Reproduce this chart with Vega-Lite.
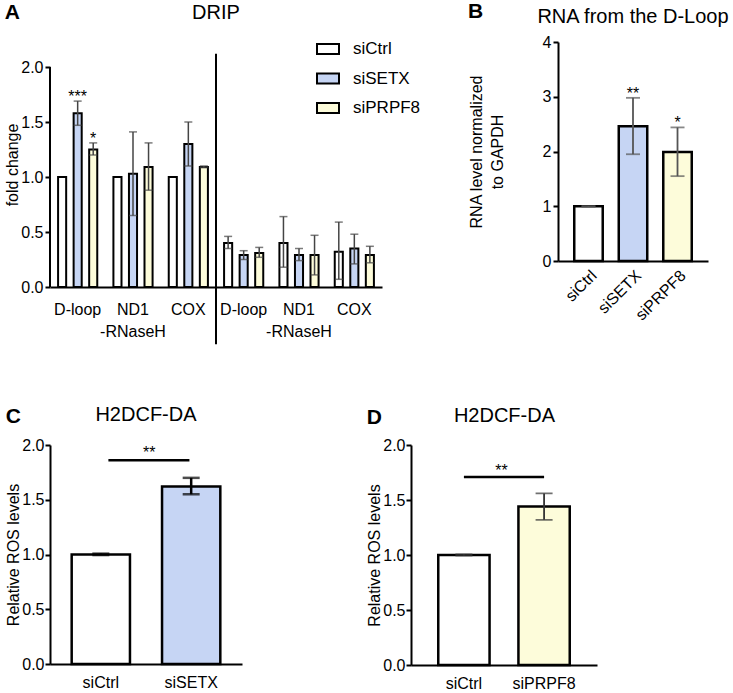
{
  "$schema": "https://vega.github.io/schema/vega-lite/v6.json",
  "padding": {"left": 4, "top": 0, "right": 0, "bottom": 0},
  "background": "white",
  "config": {
    "font": "Liberation Sans",
    "view": {"stroke": null},
    "axis": {
      "grid": false, "domainColor": "black", "domainWidth": 2, "tickColor": "black", "tickWidth": 2, "tickSize": 5,
      "labelFontSize": 16, "labelColor": "black", "titleFontSize": 16, "titleFontWeight": "normal", "titleColor": "black",
      "labelFont": "Liberation Sans", "titleFont": "Liberation Sans"
    },
    "title": {"fontSize": 21, "fontWeight": "bold", "anchor": "start", "frame": "bounds", "color": "black", "font": "Liberation Sans"},
    "text": {"font": "Liberation Sans", "color": "black"}
  },
  "datasets": {
    "drip": [
      {"grp": "L|D-loop", "cond": "siCtrl", "v": 1.0},
      {"grp": "L|D-loop", "cond": "siSETX", "v": 1.58, "lo": 1.47, "hi": 1.69, "sig": "***"},
      {"grp": "L|D-loop", "cond": "siPRPF8", "v": 1.25, "lo": 1.2, "hi": 1.31, "sig": "*"},
      {"grp": "L|ND1", "cond": "siCtrl", "v": 1.0},
      {"grp": "L|ND1", "cond": "siSETX", "v": 1.03, "lo": 0.65, "hi": 1.41},
      {"grp": "L|ND1", "cond": "siPRPF8", "v": 1.09, "lo": 0.88, "hi": 1.31},
      {"grp": "L|COX", "cond": "siCtrl", "v": 1.0},
      {"grp": "L|COX", "cond": "siSETX", "v": 1.3, "lo": 1.1, "hi": 1.5},
      {"grp": "L|COX", "cond": "siPRPF8", "v": 1.09, "lo": 1.085, "hi": 1.1},
      {"grp": "R|D-loop", "cond": "siCtrl", "v": 0.4, "lo": 0.35, "hi": 0.46},
      {"grp": "R|D-loop", "cond": "siSETX", "v": 0.29, "lo": 0.25, "hi": 0.33},
      {"grp": "R|D-loop", "cond": "siPRPF8", "v": 0.31, "lo": 0.27, "hi": 0.36},
      {"grp": "R|ND1", "cond": "siCtrl", "v": 0.4, "lo": 0.18, "hi": 0.64},
      {"grp": "R|ND1", "cond": "siSETX", "v": 0.29, "lo": 0.24, "hi": 0.35},
      {"grp": "R|ND1", "cond": "siPRPF8", "v": 0.29, "lo": 0.11, "hi": 0.47},
      {"grp": "R|COX", "cond": "siCtrl", "v": 0.32, "lo": 0.07, "hi": 0.59},
      {"grp": "R|COX", "cond": "siSETX", "v": 0.35, "lo": 0.21, "hi": 0.48},
      {"grp": "R|COX", "cond": "siPRPF8", "v": 0.29, "lo": 0.22, "hi": 0.37}
    ],
    "rna": [
      {"cond": "siCtrl", "v": 1.0, "lo": 0.99, "hi": 1.005},
      {"cond": "siSETX", "v": 2.46, "lo": 1.95, "hi": 2.98, "sig": "**"},
      {"cond": "siPRPF8", "v": 1.99, "lo": 1.55, "hi": 2.44, "sig": "*"}
    ],
    "rosC": [
      {"cond": "siCtrl", "v": 1.0, "lo": 0.995, "hi": 1.008},
      {"cond": "siSETX", "v": 1.62, "lo": 1.55, "hi": 1.7}
    ],
    "rosD": [
      {"cond": "siCtrl", "v": 1.0, "lo": 0.995, "hi": 1.006},
      {"cond": "siPRPF8", "v": 1.44, "lo": 1.32, "hi": 1.56}
    ],
    "rnaseh": [
      {"grp": "L|ND1", "t": "-RNaseH"},
      {"grp": "R|ND1", "t": "-RNaseH"}
    ],
    "one": [{}]
  },
  "spacing": 59,
  "resolve": {"scale": {"fill": "independent"}},
  "vconcat": [
    {
      "spacing": 47,
      "resolve": {"scale": {"fill": "independent"}},
      "hconcat": [
        {
          "width": 332, "height": 245,
          "title": {"text": "A", "offset": -20},
          "data": {"name": "drip"},
          "layer": [
            {
              "mark": {"type": "bar", "stroke": "black", "strokeWidth": 2},
              "encoding": {
                "x": {"field": "grp", "type": "nominal",
                  "scale": {"domain": ["L|D-loop", "L|ND1", "L|COX", "R|D-loop", "R|ND1", "R|COX"], "paddingInner": 0, "paddingOuter": 0},
                  "axis": {"title": null, "ticks": false, "labelAngle": 0, "labelPadding": 14, "labelExpr": "slice(datum.label, 2)"}},
                "xOffset": {"field": "cond", "type": "nominal", "scale": {"domain": ["siCtrl", "siSETX", "siPRPF8"], "paddingInner": 0.48, "paddingOuter": 0.52}},
                "y": {"field": "v", "type": "quantitative", "scale": {"domain": [0, 2.2273], "nice": false},
                  "axis": {"values": [0, 0.5, 1, 1.5, 2], "format": ".1f", "title": "fold change", "titlePadding": 0, "labelPadding": 2, "domain": false}},
                "fill": {"field": "cond", "type": "nominal",
                  "scale": {"domain": ["siCtrl", "siSETX", "siPRPF8"], "range": ["#ffffff", "#c6d5f4", "#fdfcda"]},
                  "legend": {"title": null, "orient": "none", "legendX": 266, "legendY": -5, "symbolType": "M-1,-0.45H1V0.45H-1Z", "symbolSize": 484, "symbolStrokeColor": "black", "symbolStrokeWidth": 2, "labelFontSize": 17, "labelColor": "black", "labelOffset": 13, "rowPadding": 8.5}}
              }
            },
            {
              "data": {"name": "one"},
              "mark": {"type": "rule", "color": "black", "strokeWidth": 2},
              "encoding": {
                "x": {"datum": "L|D-loop", "type": "nominal", "bandPosition": 0},
                "y": {"datum": 0, "type": "quantitative"},
                "y2": {"datum": 2}
              }
            },
            {
              "mark": {"type": "rule", "color": "#444", "strokeWidth": 1.5},
              "encoding": {
                "x": {"field": "grp", "type": "nominal"},
                "xOffset": {"field": "cond", "type": "nominal"},
                "y": {"field": "lo", "type": "quantitative"},
                "y2": {"field": "hi"}
              }
            },
            {
              "mark": {"type": "tick", "color": "#444", "thickness": 1.5, "size": 8},
              "encoding": {
                "x": {"field": "grp", "type": "nominal"},
                "xOffset": {"field": "cond", "type": "nominal"},
                "y": {"field": "lo", "type": "quantitative"}
              }
            },
            {
              "mark": {"type": "tick", "color": "#444", "thickness": 1.5, "size": 8},
              "encoding": {
                "x": {"field": "grp", "type": "nominal"},
                "xOffset": {"field": "cond", "type": "nominal"},
                "y": {"field": "hi", "type": "quantitative"}
              }
            },
            {
              "transform": [{"filter": "isValid(datum.sig)"}],
              "mark": {"type": "text", "baseline": "bottom", "fontSize": 16, "dy": 4},
              "encoding": {
                "x": {"field": "grp", "type": "nominal"},
                "xOffset": {"field": "cond", "type": "nominal"},
                "y": {"field": "hi", "type": "quantitative"},
                "text": {"field": "sig"}
              }
            },
            {
              "data": {"name": "one"},
              "mark": {"type": "rule", "color": "black", "strokeWidth": 2},
              "encoding": {
                "x": {"datum": "R|D-loop", "type": "nominal", "bandPosition": 0},
                "y": {"datum": 2.12, "type": "quantitative"},
                "y2": {"datum": -0.52}
              }
            },
            {
              "data": {"name": "one"},
              "mark": {"type": "text", "fontSize": 20, "fontWeight": "normal"},
              "encoding": {
                "x": {"datum": "R|D-loop", "type": "nominal", "bandPosition": 0},
                "y": {"datum": 2.49, "type": "quantitative"},
                "text": {"value": "DRIP"}
              }
            },
            {
              "data": {"name": "rnaseh"},
              "mark": {"type": "text", "fontSize": 16},
              "encoding": {
                "x": {"field": "grp", "type": "nominal"},
                "y": {"datum": -0.41, "type": "quantitative"},
                "text": {"field": "t"}
              }
            }
          ]
        },
        {
          "width": 150, "height": 219,
          "title": {"text": "B", "offset": -15},
          "data": {"name": "rna"},
          "layer": [
            {
              "mark": {"type": "bar", "stroke": "black", "strokeWidth": 2.5},
              "encoding": {
                "x": {"field": "cond", "type": "nominal",
                  "scale": {"domain": ["siCtrl", "siSETX", "siPRPF8"], "paddingInner": 0.36, "paddingOuter": 0.365},
                  "axis": {"title": null, "ticks": false, "labelAngle": -45, "labelPadding": 6}},
                "y": {"field": "v", "type": "quantitative", "scale": {"domain": [0, 4]},
                  "axis": {"values": [0, 1, 2, 3, 4], "format": "d", "title": ["RNA level normalized", "to GAPDH"], "titleLineHeight": 21, "titlePadding": 37, "labelPadding": 2}},
                "fill": {"field": "cond", "type": "nominal",
                  "scale": {"domain": ["siCtrl", "siSETX", "siPRPF8"], "range": ["#ffffff", "#c6d5f4", "#fdfcda"]}, "legend": null}
              }
            },
            {
              "mark": {"type": "rule", "color": "#555", "strokeWidth": 1.8},
              "encoding": {
                "x": {"field": "cond", "type": "nominal"},
                "y": {"field": "lo", "type": "quantitative"},
                "y2": {"field": "hi"}
              }
            },
            {
              "mark": {"type": "tick", "color": "#555", "thickness": 1.8, "size": 14},
              "encoding": {
                "x": {"field": "cond", "type": "nominal"},
                "y": {"field": "lo", "type": "quantitative"}
              }
            },
            {
              "mark": {"type": "tick", "color": "#555", "thickness": 1.8, "size": 14},
              "encoding": {
                "x": {"field": "cond", "type": "nominal"},
                "y": {"field": "hi", "type": "quantitative"}
              }
            },
            {
              "transform": [{"filter": "isValid(datum.sig)"}],
              "mark": {"type": "text", "baseline": "bottom", "fontSize": 16, "dy": 4},
              "encoding": {
                "x": {"field": "cond", "type": "nominal"},
                "y": {"field": "hi", "type": "quantitative"},
                "text": {"field": "sig"}
              }
            },
            {
              "data": {"name": "one"},
              "mark": {"type": "text", "fontSize": 20},
              "encoding": {
                "x": {"datum": "siSETX", "type": "nominal"},
                "y": {"datum": 4.46, "type": "quantitative"},
                "text": {"value": "RNA from the D-Loop"}
              }
            }
          ]
        }
      ]
    },
    {
      "spacing": 124,
      "resolve": {"scale": {"fill": "independent"}},
      "hconcat": [
        {
          "width": 192, "height": 219,
          "title": {"text": "C", "offset": -22},
          "data": {"name": "rosC"},
          "layer": [
            {
              "mark": {"type": "bar", "stroke": "black", "strokeWidth": 2.5},
              "encoding": {
                "x": {"field": "cond", "type": "nominal",
                  "scale": {"domain": ["siCtrl", "siSETX"], "paddingInner": 0.355, "paddingOuter": 0.24},
                  "axis": {"title": null, "ticks": false, "labelAngle": 0, "labelPadding": 10}},
                "y": {"field": "v", "type": "quantitative", "scale": {"domain": [0, 2]},
                  "axis": {"values": [0, 0.5, 1, 1.5, 2], "format": ".1f", "title": "Relative ROS levels", "titlePadding": 0, "labelPadding": 1}},
                "fill": {"field": "cond", "type": "nominal",
                  "scale": {"domain": ["siCtrl", "siSETX"], "range": ["#ffffff", "#c6d5f4"]}, "legend": null}
              }
            },
            {
              "mark": {"type": "rule", "color": "black", "strokeWidth": 2.5},
              "encoding": {
                "x": {"field": "cond", "type": "nominal"},
                "y": {"field": "lo", "type": "quantitative"},
                "y2": {"field": "hi"}
              }
            },
            {
              "mark": {"type": "tick", "color": "black", "thickness": 2.5, "size": 17},
              "encoding": {
                "x": {"field": "cond", "type": "nominal"},
                "y": {"field": "lo", "type": "quantitative"}
              }
            },
            {
              "mark": {"type": "tick", "color": "black", "thickness": 2.5, "size": 17},
              "encoding": {
                "x": {"field": "cond", "type": "nominal"},
                "y": {"field": "hi", "type": "quantitative"}
              }
            },
            {
              "data": {"name": "one"},
              "mark": {"type": "rule", "color": "black", "strokeWidth": 2.5},
              "encoding": {
                "x": {"datum": "siCtrl", "type": "nominal", "bandPosition": 0.63},
                "x2": {"datum": "siSETX", "bandPosition": 0.47},
                "y": {"datum": 1.86, "type": "quantitative"}
              }
            },
            {
              "data": {"name": "one"},
              "mark": {"type": "text", "fontSize": 16, "baseline": "middle", "dy": 4},
              "encoding": {
                "x": {"datum": "siCtrl", "type": "nominal", "bandPosition": 1.33},
                "y": {"datum": 1.96, "type": "quantitative"},
                "text": {"value": "**"}
              }
            },
            {
              "data": {"name": "one"},
              "mark": {"type": "text", "fontSize": 20},
              "encoding": {
                "x": {"datum": "siCtrl", "type": "nominal", "bandPosition": 1.275},
                "y": {"datum": 2.27, "type": "quantitative"},
                "text": {"value": "H2DCF-DA"}
              }
            }
          ]
        },
        {
          "width": 186, "height": 220,
          "title": {"text": "D", "offset": -22},
          "data": {"name": "rosD"},
          "layer": [
            {
              "mark": {"type": "bar", "stroke": "black", "strokeWidth": 2.5},
              "encoding": {
                "x": {"field": "cond", "type": "nominal",
                  "scale": {"domain": ["siCtrl", "siPRPF8"], "paddingInner": 0.36, "paddingOuter": 0.34},
                  "axis": {"title": null, "ticks": false, "labelAngle": 0, "labelPadding": 10}},
                "y": {"field": "v", "type": "quantitative", "scale": {"domain": [0, 2]},
                  "axis": {"values": [0, 0.5, 1, 1.5, 2], "format": ".1f", "title": "Relative ROS levels", "titlePadding": 0, "labelPadding": 1}},
                "fill": {"field": "cond", "type": "nominal",
                  "scale": {"domain": ["siCtrl", "siPRPF8"], "range": ["#ffffff", "#fdfcda"]}, "legend": null}
              }
            },
            {
              "mark": {"type": "rule", "color": "#333", "strokeWidth": 1.8},
              "encoding": {
                "x": {"field": "cond", "type": "nominal"},
                "y": {"field": "lo", "type": "quantitative"},
                "y2": {"field": "hi"}
              }
            },
            {
              "mark": {"type": "tick", "color": "#333", "thickness": 1.8, "size": 17},
              "encoding": {
                "x": {"field": "cond", "type": "nominal"},
                "y": {"field": "lo", "type": "quantitative"}
              }
            },
            {
              "mark": {"type": "tick", "color": "#333", "thickness": 1.8, "size": 17},
              "encoding": {
                "x": {"field": "cond", "type": "nominal"},
                "y": {"field": "hi", "type": "quantitative"}
              }
            },
            {
              "data": {"name": "one"},
              "mark": {"type": "rule", "color": "black", "strokeWidth": 2.5},
              "encoding": {
                "x": {"datum": "siCtrl", "type": "nominal"},
                "x2": {"datum": "siPRPF8"},
                "y": {"datum": 1.71, "type": "quantitative"}
              }
            },
            {
              "data": {"name": "one"},
              "mark": {"type": "text", "fontSize": 16, "baseline": "middle", "dy": 4},
              "encoding": {
                "x": {"datum": "siCtrl", "type": "nominal", "bandPosition": 1.23},
                "y": {"datum": 1.8, "type": "quantitative"},
                "text": {"value": "**"}
              }
            },
            {
              "data": {"name": "one"},
              "mark": {"type": "text", "fontSize": 20},
              "encoding": {
                "x": {"datum": "siCtrl", "type": "nominal", "bandPosition": 1.29},
                "y": {"datum": 2.26, "type": "quantitative"},
                "text": {"value": "H2DCF-DA"}
              }
            }
          ]
        }
      ]
    }
  ]
}
